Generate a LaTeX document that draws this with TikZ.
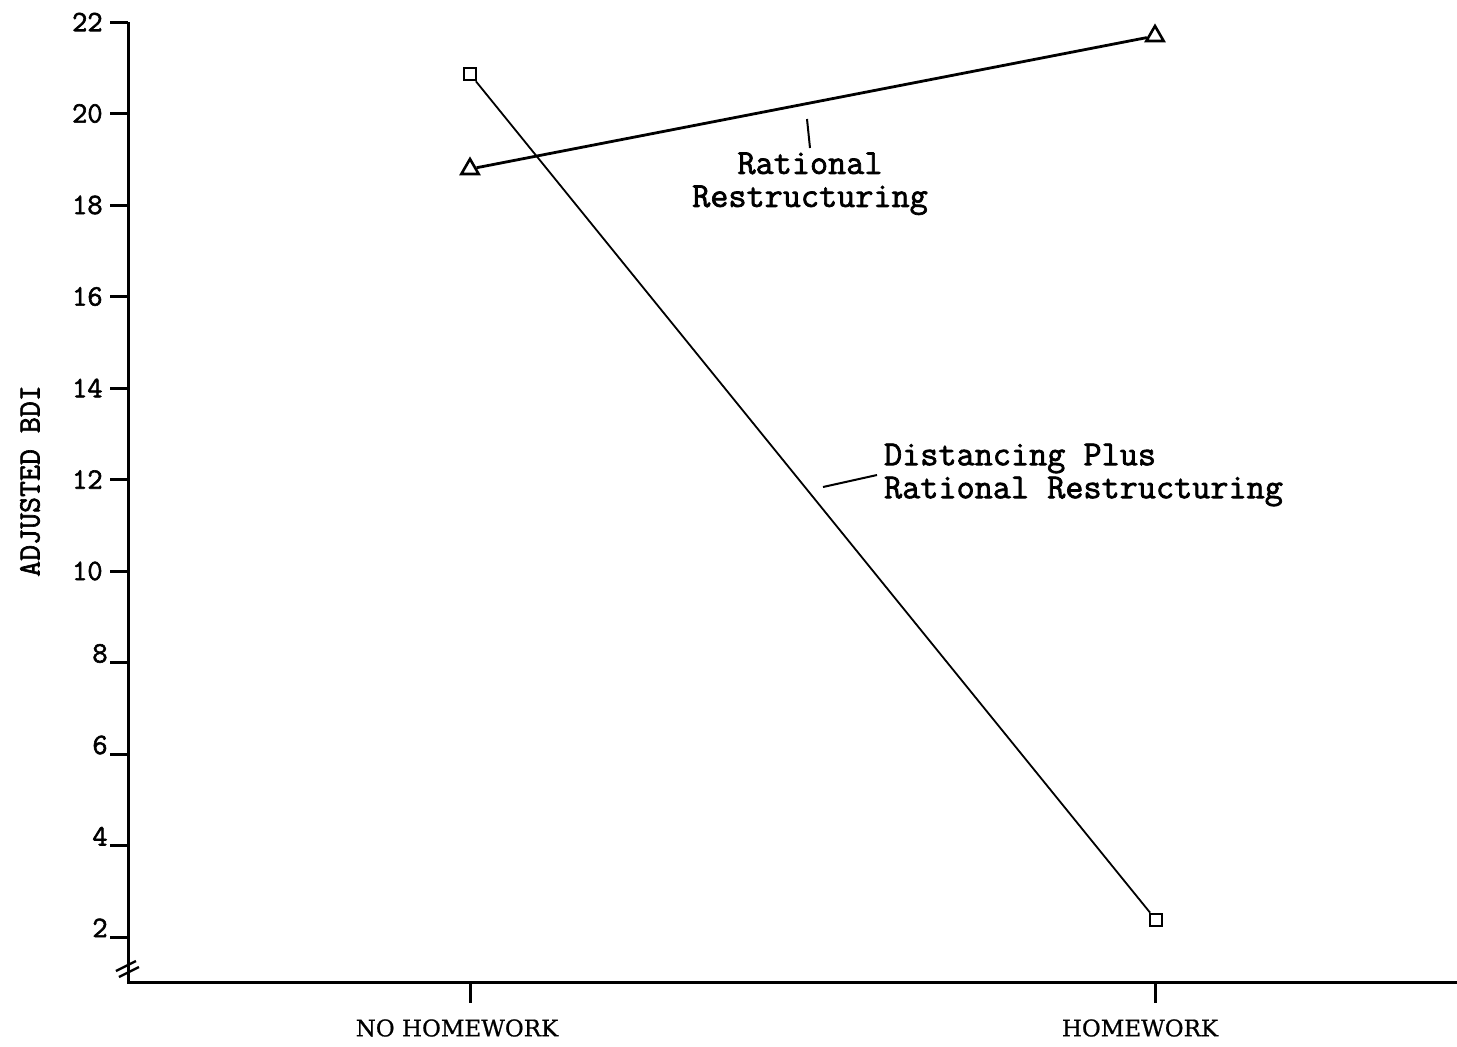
\documentclass[tikz,border=0pt]{standalone}
\usepackage{fontspec}
\setmainfont{DejaVu Serif}[FakeBold=0.8]
\setmonofont{Latin Modern Mono}[FakeBold=2]
\usetikzlibrary{shapes.geometric}
\tikzset{
  axisline/.style={line width=1.5pt},
  sqmark/.style={draw, line width=1.3pt, minimum size=6pt, inner sep=0pt},
  trimark/.style={draw, regular polygon, regular polygon sides=3, line width=1.3pt, minimum size=10pt, inner sep=0pt},
  curvelabel/.style={font=\fontsize{17.6}{16.5}\selectfont\ttfamily},
  ticklabel/.style={font=\fontsize{14.8}{15}\selectfont\ttfamily, inner sep=1.5pt},
  grouplabel/.style={font=\fontsize{11.5}{13}\selectfont},
}
\begin{document}
\begin{tikzpicture}[x=0.5pt,y=-0.5pt]
\useasboundingbox (0,0) rectangle (1457,1046);
% axes
\draw[axisline] (128,22) -- (128,982) -- (1457,982);
\draw[line width=1.2pt] (116,971) -- (136,961);
\draw[line width=1.2pt] (119,977) -- (139,967);
\foreach \v in {2,4,6,8}{
  \draw[axisline] (110,{937-(\v-2)*45.75}) -- (128,{937-(\v-2)*45.75});
  \node[ticklabel, anchor=base east] at (111,{937-(\v-2)*45.75}) {\v};
}
\foreach \v in {10,12,...,22}{
  \draw[axisline] (110,{937-(\v-2)*45.75}) -- (128,{937-(\v-2)*45.75});
  \node[ticklabel, anchor=east] at (106,{937-(\v-2)*45.75}) {\v};
}
\node[ticklabel, rotate=90, font=\fontsize{15.5}{15}\selectfont\ttfamily] (ylabel) at (30,481) {ADJUSTED BDI};

\draw[axisline] (470,982) -- (470,1003);
\draw[axisline] (1155,982) -- (1155,1003);
\node[grouplabel] (nohw) at (457,1028) {NO HOMEWORK};
\node[grouplabel] (hw) at (1140,1028) {HOMEWORK};

% data
\node[sqmark] (dprno) at (470,74) {};
\node[sqmark] (dprhw) at (1156,920) {};
\node[trimark] (rrno) at (470,169) {};
\node[trimark] (rrhw) at (1155,36) {};
\draw[line width=0.9pt] (dprno) -- (dprhw);
\draw[line width=1.4pt] (rrno) -- (rrhw);

% labels
\node[curvelabel, align=center, anchor=north, inner sep=2pt] (rrlabel) at (810,148) {Rational\\Restructuring};
\coordinate (rrlead) at (807,119);
\draw[line width=1pt] (rrlead) -- (rrlabel.north);
\node[curvelabel, align=left, anchor=west] (dplabel) at (877,475) {Distancing Plus\\Rational Restructuring};
\coordinate (dplead) at (823,487);
\draw[line width=1pt] (dplead) -- (dplabel.west);
\end{tikzpicture}
\end{document}
